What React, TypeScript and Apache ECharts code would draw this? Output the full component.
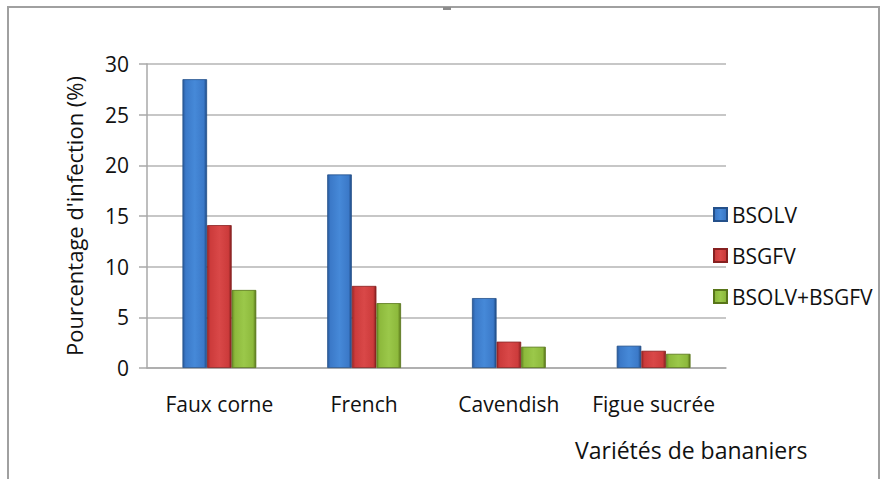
import React, { useEffect, useRef } from "react";
import * as echarts from "echarts";

const categories = ["Faux corne", "French", "Cavendish", "Figue sucrée"];
const seriesNames = ["BSOLV", "BSGFV", "BSOLV+BSGFV"];
const bsolv = [28.5, 19.1, 6.9, 2.2];
const bsgfv = [14.1, 8.1, 2.6, 1.7];
const bsolvBsgfv = [7.7, 6.4, 2.1, 1.4];
const yTicks = { min: 0, max: 30, interval: 5 };

const FONT = "'Open Sans', 'Liberation Sans', sans-serif";

function barFill(edge: string, mid: string, center: string, far: string) {
  return {
    type: "linear",
    x: 0,
    y: 0,
    x2: 1,
    y2: 0,
    colorStops: [
      { offset: 0, color: edge },
      { offset: 0.12, color: mid },
      { offset: 0.5, color: center },
      { offset: 0.88, color: mid },
      { offset: 1, color: far },
    ],
  };
}

const fills = [
  barFill("#2a5a9c", "#3b79c8", "#4689d8", "#1f4a84"),
  barFill("#9c2828", "#cc3b3b", "#d94848", "#862020"),
  barFill("#6a8c24", "#8db93c", "#9bc84a", "#587519"),
];
const borders = ["#24508a", "#862020", "#587519"];

export default function App() {
  const ref = useRef<HTMLDivElement>(null);

  useEffect(() => {
    document.body.style.margin = "0";
    if (!ref.current) return;
    const chart = echarts.init(ref.current, undefined, { renderer: "svg" });
    const data = [bsolv, bsgfv, bsolvBsgfv];

    chart.setOption({
      animation: false,
      backgroundColor: "#ffffff",
      textStyle: { fontFamily: FONT },
      grid: { left: 147, top: 64, right: 154, bottom: 111, containLabel: false },
      legend: {
        orient: "vertical",
        left: 708,
        top: 199,
        itemWidth: 13,
        itemHeight: 13,
        itemGap: 20,
        icon: "rect",
        textStyle: { fontSize: 21, color: "#111", fontFamily: FONT, lineHeight: 21 },
        data: seriesNames,
      },
      xAxis: {
        type: "category",
        data: categories,
        axisLine: { show: true, lineStyle: { color: "#a8a8a8", width: 1.5 } },
        axisTick: { show: false },
        axisLabel: { interval: 0, fontSize: 21, color: "#111", margin: 25, fontFamily: FONT },
      },
      yAxis: {
        type: "value",
        min: yTicks.min,
        max: yTicks.max,
        interval: yTicks.interval,
        name: "Pourcentage d'infection (%)",
        nameLocation: "middle",
        nameGap: 62,
        nameTextStyle: { fontSize: 22, color: "#111", fontFamily: FONT },
        axisLine: { show: true, lineStyle: { color: "#a8a8a8", width: 1.5 } },
        axisTick: { show: true, inside: false, length: 8, lineStyle: { color: "#a8a8a8", width: 1.5 } },
        axisLabel: { fontSize: 21, color: "#111", margin: 18, fontFamily: FONT },
        splitLine: { show: true, lineStyle: { color: "#b4b4b4", width: 1.5 } },
      },
      series: seriesNames.map((name, i) => ({
        name,
        type: "bar",
        data: data[i],
        barGap: "0%",
        barCategoryGap: "49%",
        itemStyle: { color: fills[i], borderColor: borders[i], borderWidth: 0.8 },
      })),
      graphic: [
        {
          type: "rect",
          shape: { x: 8, y: 7, width: 871, height: 480 },
          style: { fill: "none", stroke: "#a0a0a0", lineWidth: 2 },
          silent: true,
          z: -1,
        },
        {
          type: "rect",
          shape: { x: 443, y: 7, width: 8, height: 3 },
          style: { fill: "#8c8c8c" },
          silent: true,
        },
        {
          type: "text",
          left: 575,
          top: 438,
          style: {
            text: "Variétés de bananiers",
            fontSize: 23,
            fontFamily: FONT,
            fill: "#111",
          },
        },
      ],
    });

    return () => chart.dispose();
  }, []);

  return <div ref={ref} style={{ width: 880, height: 479 }} />;
}
